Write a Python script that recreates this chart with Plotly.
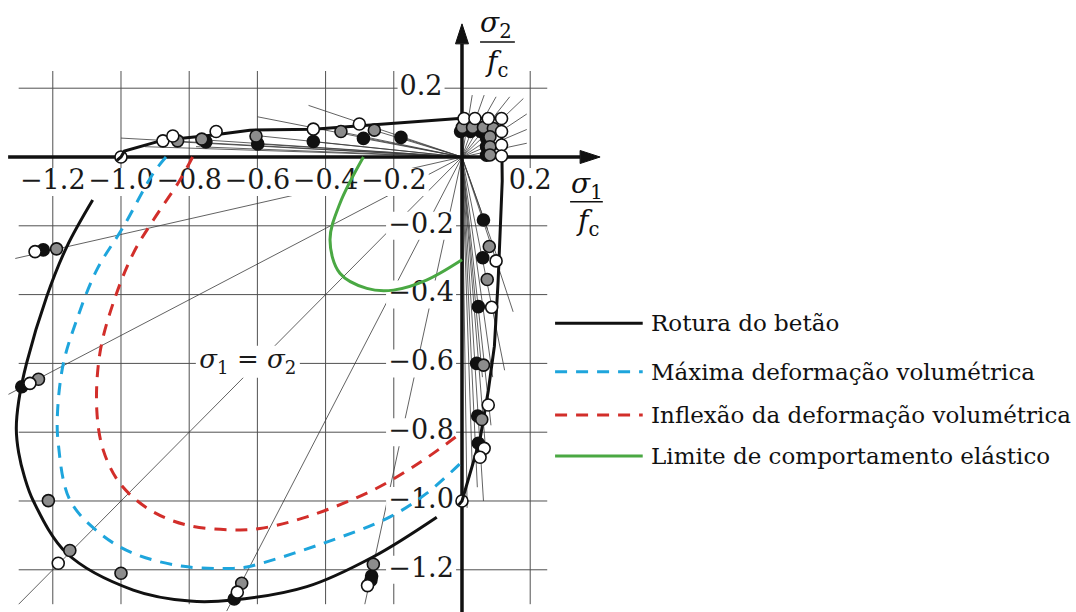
import plotly.graph_objects as go

FONT = "DejaVu Serif"

# ---------------- data ----------------
# grid / tick positions (sigma / fc)
x_ticks = [-1.2, -1.0, -0.8, -0.6, -0.4, -0.2, 0.2]
y_ticks = [0.2, -0.2, -0.4, -0.6, -0.8, -1.0, -1.2]
x_tick_text = ["−1.2", "−1.0", "−0.8", "−0.6", "−0.4", "−0.2", "0.2"]
y_tick_text = ["0.2", "−0.2", "−0.4", "−0.6", "−0.8", "−1.0", "−1.2"]

# Rotura do betão: tension branches (with the two uniaxial points)
fail_a_x = [-1.012, -1.0, -0.99, -0.877, -0.729, -0.622, -0.436, 0.0, 0.116, 0.116,
            0.118, 0.106, 0.095, 0.077, 0.053, 0.0, -0.010]
fail_a_y = [-0.010, 0.0, 0.017, 0.049, 0.064, 0.078, 0.081, 0.113, 0.113, 0.0,
            -0.07, -0.36, -0.55, -0.68, -0.82, -1.0, -1.012]
# Rotura do betão: biaxial compression branch
fail_b_x = [-1.083, -1.159, -1.218, -1.277, -1.300, -1.307, -1.300, -1.283, -1.257,
            -1.159, -0.964, -0.798, -0.671, -0.455, -0.260, -0.074]
fail_b_y = [-0.125, -0.261, -0.406, -0.600, -0.710, -0.790, -0.860, -0.930, -1.000,
            -1.152, -1.259, -1.291, -1.288, -1.249, -1.162, -1.047]

# Máxima deformação volumétrica
blue_x = [-0.868, -0.905, -0.993, -1.071, -1.130, -1.169, -1.186, -1.184, -1.150, -1.062,
          -0.964, -0.817, -0.671, -0.631, -0.407, -0.211, -0.104, 0.0]
blue_y = [0.0, -0.047, -0.203, -0.328, -0.474, -0.600, -0.740, -0.832, -0.997, -1.094,
          -1.152, -1.190, -1.196, -1.192, -1.123, -1.046, -0.978, -0.886]

# Inflexão da deformação volumétrica
red_x = [-0.790, -0.827, -0.905, -0.964, -1.023, -1.062, -1.071, -1.052, -1.003, -0.915,
         -0.807, -0.671, -0.592, -0.455, -0.260, -0.113, 0.0]
red_y = [0.0, -0.067, -0.183, -0.280, -0.425, -0.571, -0.735, -0.852, -0.949, -1.026,
         -1.070, -1.084, -1.080, -1.046, -0.968, -0.881, -0.800]

# Limite de comportamento elástico
green_x = [-0.289, -0.358, -0.387, -0.358, -0.279, -0.201, -0.104, 0.0]
green_y = [0.0, -0.135, -0.241, -0.338, -0.382, -0.387, -0.358, -0.299]

# test results (three series)
black_x = [-0.751, -0.599, -0.436, -0.289, -0.179, -0.004, 0.025, 0.055, 0.072, 0.072,
           0.072, 0.063, 0.061, 0.048, 0.043, 0.046, 0.048, -1.228, -1.291, -0.668,
           -0.265, -0.267]
black_y = [0.044, 0.038, 0.045, 0.054, 0.057, 0.074, 0.074, 0.074, 0.055, 0.030,
           0.005, -0.183, -0.293, -0.435, -0.600, -0.753, -0.832, -0.270, -0.668, -1.285,
           -1.218, -1.230]
gray_x = [-0.834, -0.763, -0.604, -0.355, -0.257, 0.001, 0.031, 0.063, 0.092, 0.082,
          0.082, 0.082, 0.080, 0.074, 0.063, 0.058, -1.189, -1.242, -1.213, -1.150,
          -1.000, -0.646, -0.260]
gray_y = [0.047, 0.052, 0.061, 0.074, 0.078, 0.086, 0.086, 0.086, 0.083, 0.059,
          0.030, 0.006, -0.260, -0.356, -0.605, -0.763, -0.267, -0.646, -0.999, -1.144,
          -1.210, -1.239, -1.184]
white_x = [-0.877, -0.848, -0.721, -0.436, -0.301, 0.006, 0.038, 0.077, 0.116, 0.116,
           0.116, 0.116, 0.100, 0.087, 0.077, 0.065, 0.053, -1.252, -1.267, -1.184,
           -0.659, -0.277]
white_y = [0.047, 0.061, 0.074, 0.081, 0.096, 0.112, 0.112, 0.112, 0.112, 0.074,
           0.035, 0.003, -0.302, -0.437, -0.721, -0.847, -0.873, -0.275, -0.658, -1.181,
           -1.265, -1.246]
uniaxial_x = [-1.0, 0.0]
uniaxial_y = [0.0, -1.0]

# loading paths (end points of rays from the origin)
ray_end_x = [-1.0, -0.93, -0.85, -0.78, -0.76, -0.60, -0.60, -0.60, -0.45, -0.44, -0.36,
             -0.29, -0.26, -0.18,
             0.03, 0.065, 0.10, 0.14, 0.18, 0.19, 0.19, 0.19,
             -1.31, -1.33, -1.30, -0.69, -0.285,
             0.015, 0.03, 0.045, 0.063, 0.07, 0.085, 0.06, 0.09, 0.125, 0.15, 0.11, 0.075]
ray_end_y = [0.055, 0.03, 0.045, 0.03, 0.05, 0.117, 0.062, 0.038, 0.15, 0.045, 0.074,
             0.054, 0.078, 0.057,
             0.18, 0.18, 0.175, 0.175, 0.17, 0.125, 0.08, 0.04,
             -0.295, -0.69, -1.30, -1.32, -1.30,
             -1.02, -0.90, -0.96, -1.0, -0.86, -0.78, -0.64, -0.64, -0.62, -0.45, -0.31, -0.21]

legend_names = ["Rotura do betão", "Máxima deformação volumétrica",
                "Inflexão da deformação volumétrica", "Limite de comportamento elástico"]

# ---------------- styles ----------------
BLACK = "#111111"
BLUE = "#1ea5dc"
RED = "#d22e2a"
GREEN = "#4aa843"
GRAY = "#8c8c8c"
GRID = "#505050"
TICK_SIZE = 27

GRID_LO, GRID_HI = -1.30, 0.25
X_LO, X_HI = -1.3548, 1.8006
Y_LO, Y_HI = -1.3227, 0.4564
PX_X = 341.0   # pixels per unit along x
PX_Y = 344.0   # pixels per unit along y

fig = go.Figure()
shapes = []

# grid lines
for xv in x_ticks:
    shapes.append(dict(type="line", x0=xv, x1=xv, y0=GRID_LO, y1=GRID_HI,
                       line=dict(color=GRID, width=1), layer="below"))
for yv in y_ticks:
    shapes.append(dict(type="line", x0=GRID_LO, x1=GRID_HI, y0=yv, y1=yv,
                       line=dict(color=GRID, width=1), layer="below"))

# loading paths
for ex, ey in zip(ray_end_x, ray_end_y):
    shapes.append(dict(type="line", x0=0, y0=0, x1=ex, y1=ey,
                       line=dict(color="#3a3a3a", width=0.8), layer="below"))


def text_width(s):
    w = {"−": 23, ".": 9}
    return sum(w.get(c, 17) for c in s) + 4


# white backgrounds behind tick labels
XLAB_Y = -0.073
YLAB_X = -0.12
for xv, t in zip(x_ticks, x_tick_text):
    w = text_width(t)
    shapes.append(dict(type="rect", xsizemode="pixel", ysizemode="pixel",
                       xanchor=xv, yanchor=XLAB_Y, x0=-w / 2, x1=w / 2, y0=-14, y1=14,
                       fillcolor="white", line=dict(width=0), layer="below"))
for yv, t in zip(y_ticks, y_tick_text):
    w = text_width(t)
    shapes.append(dict(type="rect", xsizemode="pixel", ysizemode="pixel",
                       xanchor=YLAB_X, yanchor=yv, x0=-w / 2, x1=w / 2, y0=-14, y1=14,
                       fillcolor="white", line=dict(width=0), layer="below"))
# background of the sigma1 = sigma2 label
EQ_X, EQ_Y = -0.628, -0.595
shapes.append(dict(type="rect", xsizemode="pixel", ysizemode="pixel",
                   xanchor=EQ_X, yanchor=EQ_Y, x0=-52, x1=52, y0=-16, y1=16,
                   fillcolor="white", line=dict(width=0), layer="below"))

# fraction bars of the axis titles
shapes.append(dict(type="line", x0=0.053, x1=0.155, y0=0.334, y1=0.334,
                   line=dict(color=BLACK, width=1.5)))
shapes.append(dict(type="line", x0=0.317, x1=0.413, y0=-0.130, y1=-0.130,
                   line=dict(color=BLACK, width=1.5)))

# tick labels (text traces, so the curves are drawn over them)
fig.add_trace(go.Scatter(x=x_ticks, y=[XLAB_Y] * len(x_ticks), mode="text",
                         text=x_tick_text, textposition="middle center",
                         textfont=dict(family=FONT, size=TICK_SIZE, color="#1a1a1a"),
                         hoverinfo="skip", showlegend=False))
fig.add_trace(go.Scatter(x=[YLAB_X] * len(y_ticks), y=y_ticks, mode="text",
                         text=y_tick_text, textposition="middle center",
                         textfont=dict(family=FONT, size=TICK_SIZE, color="#1a1a1a"),
                         hoverinfo="skip", showlegend=False))
fig.add_trace(go.Scatter(x=[EQ_X], y=[EQ_Y], mode="text",
                         text=["<i>σ</i><sub>1</sub> = <i>σ</i><sub>2</sub>"],
                         textposition="middle center",
                         textfont=dict(family=FONT, size=26, color="#1a1a1a"),
                         hoverinfo="skip", showlegend=False))

# axes with arrow heads
AX_X_TIP, AX_Y_TIP = 0.405, 0.387
HEAD_L, HEAD_W = 20.0, 6.5
fig.add_trace(go.Scatter(x=[-1.331, AX_X_TIP - HEAD_L / PX_X], y=[0, 0], mode="lines",
                         line=dict(color=BLACK, width=3.5), hoverinfo="skip", showlegend=False))
fig.add_trace(go.Scatter(x=[0, 0], y=[Y_LO, AX_Y_TIP - HEAD_L / PX_Y], mode="lines",
                         line=dict(color=BLACK, width=3.5), hoverinfo="skip", showlegend=False))
fig.add_trace(go.Scatter(
    x=[AX_X_TIP, AX_X_TIP - HEAD_L / PX_X, AX_X_TIP - HEAD_L / PX_X, AX_X_TIP],
    y=[0, HEAD_W / PX_Y, -HEAD_W / PX_Y, 0],
    mode="lines", fill="toself", fillcolor=BLACK, line=dict(color=BLACK, width=1),
    hoverinfo="skip", showlegend=False))
fig.add_trace(go.Scatter(
    x=[0, HEAD_W / PX_X, -HEAD_W / PX_X, 0],
    y=[AX_Y_TIP, AX_Y_TIP - HEAD_L / PX_Y, AX_Y_TIP - HEAD_L / PX_Y, AX_Y_TIP],
    mode="lines", fill="toself", fillcolor=BLACK, line=dict(color=BLACK, width=1),
    hoverinfo="skip", showlegend=False))

marker_common = dict(size=12, line=dict(color=BLACK, width=1.6))

# uniaxial points (crossed by the envelope)
fig.add_trace(go.Scatter(x=uniaxial_x, y=uniaxial_y, mode="markers",
                         marker=dict(color="white", **marker_common), showlegend=False))

# curves
fig.add_trace(go.Scatter(x=green_x, y=green_y, mode="lines", line_shape="spline",
                         line=dict(color=GREEN, width=3), name=legend_names[3], showlegend=False))
fig.add_trace(go.Scatter(x=red_x, y=red_y, mode="lines", line_shape="spline",
                         line=dict(color=RED, width=3, dash="12px,9px"),
                         name=legend_names[2], showlegend=False))
fig.add_trace(go.Scatter(x=blue_x, y=blue_y, mode="lines", line_shape="spline",
                         line=dict(color=BLUE, width=3, dash="12px,9px"),
                         name=legend_names[1], showlegend=False))
fig.add_trace(go.Scatter(x=fail_a_x, y=fail_a_y, mode="lines",
                         line=dict(color=BLACK, width=3), name=legend_names[0], showlegend=False))
fig.add_trace(go.Scatter(x=fail_b_x, y=fail_b_y, mode="lines", line_shape="spline",
                         line=dict(color=BLACK, width=3), name=legend_names[0], showlegend=False))

# test points
fig.add_trace(go.Scatter(x=black_x, y=black_y, mode="markers",
                         marker=dict(color=BLACK, **marker_common), showlegend=False))
fig.add_trace(go.Scatter(x=gray_x, y=gray_y, mode="markers",
                         marker=dict(color=GRAY, **marker_common), showlegend=False))
fig.add_trace(go.Scatter(x=white_x, y=white_y, mode="markers",
                         marker=dict(color="white", **marker_common), showlegend=False))

# legend (drawn in data space, to the right of the diagram)
LEG_X0, LEG_X1, LEG_TX = 0.273, 0.530, 0.548
leg_y = [-0.483, -0.624, -0.750, -0.869]
leg_styles = [dict(color=BLACK, width=3), dict(color=BLUE, width=3, dash="12px,9px"),
              dict(color=RED, width=3, dash="12px,9px"), dict(color=GREEN, width=3)]
annotations = []
for yv, st, name in zip(leg_y, leg_styles, legend_names):
    fig.add_trace(go.Scatter(x=[LEG_X0, LEG_X1], y=[yv, yv], mode="lines", line=st,
                             hoverinfo="skip", showlegend=False))
    annotations.append(dict(x=LEG_TX, y=yv, text=name, showarrow=False, xanchor="left",
                            yanchor="middle", font=dict(family=FONT, size=23, color="#111")))

# axis titles
annotations += [
    dict(x=0.100, y=0.384, text="<i>σ</i><sub>2</sub>", showarrow=False,
         font=dict(family=FONT, size=28, color="#111")),
    dict(x=0.100, y=0.272, text="<i>f</i><sub>c</sub>", showarrow=False,
         font=dict(family=FONT, size=28, color="#111")),
    dict(x=0.367, y=-0.084, text="<i>σ</i><sub>1</sub>", showarrow=False,
         font=dict(family=FONT, size=28, color="#111")),
    dict(x=0.367, y=-0.189, text="<i>f</i><sub>c</sub>", showarrow=False,
         font=dict(family=FONT, size=28, color="#111")),
]

fig.update_layout(
    width=1076, height=612,
    margin=dict(l=0, r=0, t=0, b=0),
    paper_bgcolor="white", plot_bgcolor="white",
    font=dict(family=FONT),
    xaxis=dict(range=[X_LO, X_HI], visible=False, fixedrange=True),
    yaxis=dict(range=[Y_LO, Y_HI], visible=False, fixedrange=True),
    shapes=shapes, annotations=annotations,
    showlegend=False,
)

fig.write_html("out.html")
